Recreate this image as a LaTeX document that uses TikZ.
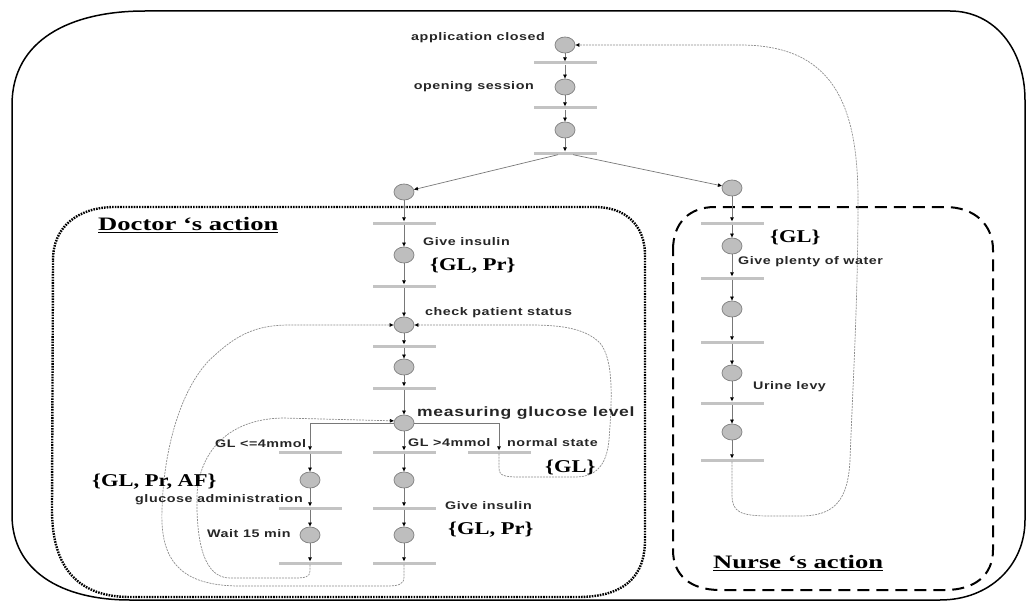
\documentclass[tikz,border=0pt]{standalone}
\usepackage{fontspec}
\usetikzlibrary{shapes.geometric,arrows.meta}
\newfontfamily\labfont[FakeStretch=1.3,LetterSpace=5]{Liberation Sans}
\newfontfamily\glfont[FakeStretch=1.25]{Liberation Serif}
\newfontfamily\hdfont[FakeStretch=1.4]{Liberation Serif}
\definecolor{placefill}{RGB}{190,190,190}
\definecolor{placeline}{RGB}{135,135,135}
\definecolor{barfill}{RGB}{195,195,195}
\definecolor{flowline}{RGB}{120,120,120}
\definecolor{loopline}{RGB}{140,140,140}
\begin{document}
\begin{tikzpicture}[x=1pt,y=-1pt,
 placenode/.style={ellipse,draw=placeline,line width=0.8pt,fill=placefill,minimum width=20pt,minimum height=16pt,inner sep=0pt},
 barnode/.style={rectangle,fill=barfill,minimum width=63pt,minimum height=3pt,inner sep=0pt},
 flow/.style={draw=flowline,line width=0.7pt,-{Triangle[length=4pt,width=3.5pt,color=black]}},
 retloop/.style={draw=loopline,line width=0.7pt,dash pattern=on 2pt off 1pt,-{Triangle[length=4pt,width=3.5pt,color=black]}},
 lab/.style={inner sep=0pt,font=\labfont\bfseries\fontsize{11}{13}\selectfont,text=black!85},
 biglab/.style={inner sep=0pt,font=\labfont\bfseries\fontsize{13.5}{16}\selectfont,text=black!85},
 gl/.style={inner sep=0pt,font=\glfont\bfseries\fontsize{18}{20}\selectfont},
 hd/.style={inner sep=0pt,font=\hdfont\bfseries\fontsize{19}{22}\selectfont},
 outerframe/.style={draw=black,line width=1.5pt},
 docbox/.style={draw=black,line width=2.4pt,dash pattern=on 1.6pt off 1.1pt},
 nursebox/.style={draw=black,line width=2pt,dash pattern=on 12pt off 7pt}
]
\useasboundingbox (0,0) rectangle (1029,602);

% frames
\draw[outerframe] (12,105) .. controls (12,40) and (70,11) .. (145,11) -- (950,11)
  .. controls (995,11) and (1025,50) .. (1025,100) -- (1025,520)
  .. controls (1025,565) and (990,600) .. (940,600) -- (130,600)
  .. controls (60,600) and (12,570) .. (12,515) -- cycle;
\draw[docbox] (53,260) .. controls (53,225) and (80,207) .. (115,207) -- (595,207)
  .. controls (625,207) and (645,225) .. (645,255) -- (645,540)
  .. controls (645,580) and (620,597) .. (578,597) -- (130,597)
  .. controls (80,597) and (52,570) .. (52,510) -- cycle;
\draw[nursebox] (673,250) .. controls (673,222) and (690,207) .. (715,207) -- (945,207)
  .. controls (975,207) and (993,225) .. (993,250) -- (993,550)
  .. controls (993,575) and (975,590) .. (945,590) -- (720,590)
  .. controls (690,590) and (673,575) .. (673,550) -- cycle;

% top column
\node[placenode] (tp0) at (565,45) {};
\node[barnode] (tt1) at (565,63) {};
\node[placenode] (tp1) at (565,87) {};
\node[barnode] (tt2) at (565,108) {};
\node[placenode] (tp2) at (565,130) {};
\node[barnode] (tt3) at (565,153) {};
\node[placenode] (dp0) at (404,192) {};
\node[placenode] (np0) at (732,188) {};

% doctor column
\node[barnode] (dt1) at (404,223) {};
\node[placenode] (dp1) at (404,255) {};
\node[barnode] (dt2) at (404,286) {};
\node[placenode] (dp2) at (404,325) {};
\node[barnode] (dt3) at (404,346) {};
\node[placenode] (dp3) at (404,367) {};
\node[barnode] (dt4) at (404,388) {};
\node[placenode] (mg) at (404,423) {};
\node[barnode] (mt1) at (404,452) {};
\node[placenode] (mp1) at (404,480) {};
\node[barnode] (mt2) at (404,508) {};
\node[placenode] (mp2) at (404,535) {};
\node[barnode] (mt3) at (404,563) {};
\node[barnode] (lt1) at (310,452) {};
\node[placenode] (lp1) at (310,480) {};
\node[barnode] (lt2) at (310,508) {};
\node[placenode] (lp2) at (310,535) {};
\node[barnode] (lt3) at (310,563) {};
\node[barnode] (rt1) at (499,452) {};

% nurse column
\node[barnode] (nt1) at (732,223) {};
\node[placenode] (np1) at (732,246) {};
\node[barnode] (nt2) at (732,278) {};
\node[placenode] (np2) at (732,309) {};
\node[barnode] (nt3) at (732,342) {};
\node[placenode] (np3) at (732,373) {};
\node[barnode] (nt4) at (732,403) {};
\node[placenode] (np4) at (732,432) {};
\node[barnode] (nt5) at (732,460) {};

% flows
\foreach \a/\b in {tp0/tt1,tt1/tp1,tp1/tt2,tt2/tp2,tp2/tt3,tt3/dp0,tt3/np0,
  dp0/dt1,dt1/dp1,dp1/dt2,dt2/dp2,dp2/dt3,dt3/dp3,dp3/dt4,dt4/mg,mg/mt1,
  mt1/mp1,mp1/mt2,mt2/mp2,mp2/mt3,lt1/lp1,lp1/lt2,lt2/lp2,lp2/lt3,
  np0/nt1,nt1/np1,np1/nt2,nt2/np2,np2/nt3,nt3/np3,np3/nt4,nt4/np4,np4/nt5}
  \draw[flow] (\a) -- (\b);
\draw[flow] (mg) -| (lt1);
\draw[flow] (mg) -| (rt1);

% return loops
\draw[retloop] (nt5) -- (732,495) .. controls (732,512) and (740,516) .. (770,516) -- (800,516)
  .. controls (835,516) and (848,500) .. (850,460)
  .. controls (853,380) and (858,300) .. (858,200)
  .. controls (858,100) and (830,45) .. (740,45) -- (tp0);
\draw[retloop] (rt1) -- (499,468) .. controls (499,476) and (505,477) .. (520,477) -- (575,477)
  .. controls (600,477) and (607,460) .. (609,440)
  .. controls (612,400) and (614,360) .. (600,343)
  .. controls (585,328) and (560,325) .. (530,325) -- (dp2);
\draw[retloop] (lt3) -- (310,571) .. controls (310,577) and (305,578) .. (295,578) -- (230,578)
  .. controls (205,578) and (196,545) .. (197,495)
  .. controls (199,455) and (225,419) .. (283,418) -- (mg.168);
\draw[retloop] (mt3) -- (404,577) .. controls (404,585) and (398,586) .. (385,586) -- (240,586)
  .. controls (180,586) and (160,560) .. (162,510)
  .. controls (164,440) and (185,380) .. (215,355)
  .. controls (240,332) and (260,325) .. (290,325) -- (dp2);

% labels
\node[lab,anchor=east] (l1) at (545,38) {application closed};
\node[lab,anchor=east] (l2) at (534,87) {opening session};
\node[lab,anchor=west] (l3) at (423,242) {Give insulin};
\node[gl,anchor=west] (g1) at (430,266) {\{GL, Pr\}};
\node[lab,anchor=west] (l4) at (425,313) {check patient status};
\node[biglab,anchor=west] (l5) at (417,413) {measuring glucose level};
\node[lab,anchor=west] (l6) at (408,443) {GL >4mmol};
\node[lab,anchor=west] (l7) at (507,443) {normal state};
\node[lab,anchor=west] (l8) at (215,444) {GL <=4mmol};
\node[gl,anchor=west] (g2) at (92,482) {\{GL, Pr, AF\}};
\node[lab,anchor=west] (l9) at (135,500) {glucose administration};
\node[lab,anchor=west] (l10) at (207,534) {Wait 15 min};
\node[lab,anchor=west] (l11) at (445,506) {Give insulin};
\node[gl,anchor=west] (g3) at (448,530) {\{GL, Pr\}};
\node[gl,anchor=west] (g4) at (545,467) {\{GL\}};
\node[gl,anchor=west] (g5) at (770,237) {\{GL\}};
\node[lab,anchor=west] (l12) at (738,262) {Give plenty of water};
\node[lab,anchor=west] (l13) at (753,387) {Urine levy};
\node[hd,anchor=west] (h1) at (98,225) {\underline{Doctor ‘s action}};
\node[hd,anchor=west] (h2) at (713,563) {\underline{Nurse ‘s action}};
\end{tikzpicture}
\end{document}
